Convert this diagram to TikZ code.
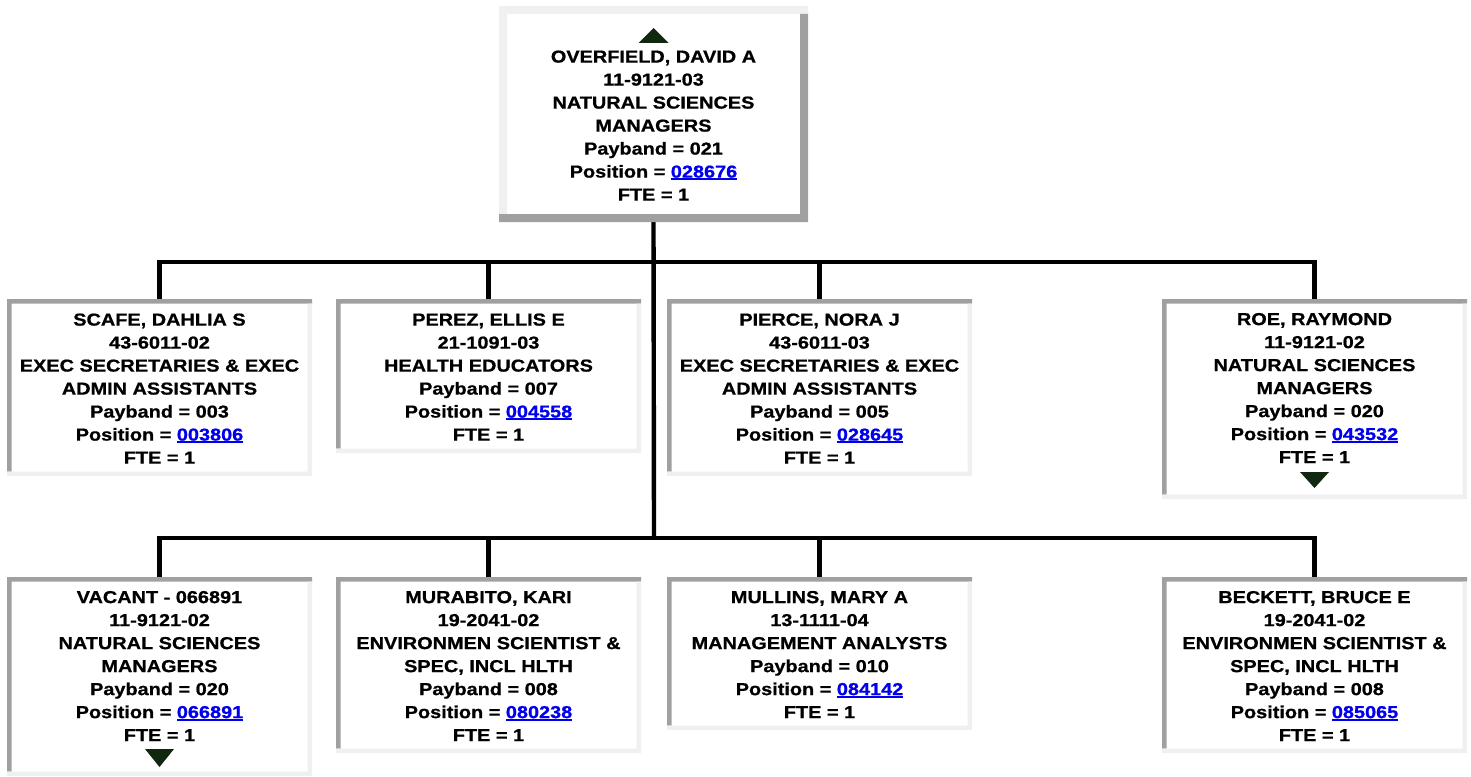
\documentclass[tikz,border=0pt]{standalone}
\usepackage{fontspec}
\setmainfont[FakeStretch=1.15, BoldFeatures={FakeBold=0.8}]{Liberation Sans}
\usetikzlibrary{calc}
\definecolor{bdark}{HTML}{A0A0A0}
\definecolor{blight}{HTML}{F0F0F0}
\definecolor{tricol}{HTML}{0F280F}
\definecolor{linkblue}{HTML}{0000EE}
\newcommand\lnk[1]{\textcolor{linkblue}{\setbox0\hbox{#1}\rlap{\rule[-2.6pt]{\wd0}{1.7pt}}\box0}}
% #1 node name, #2 border width, #3 top-left colour, #4 bottom-right colour
\newcommand\bevelnode[4]{%
  \fill[#3] let \p1=(#1.north west), \p2=(#1.south east) in
    (\x1,\y1) -- (\x2,\y1) -- (\x2,\y1-#2) -- (\x1+#2,\y1-#2) -- (\x1+#2,\y2+#2) -- (\x1,\y2+#2) -- cycle;
  \fill[#4] let \p1=(#1.north west), \p2=(#1.south east) in
    (\x2,\y1-#2) -- (\x2,\y2) -- (\x1,\y2) -- (\x1,\y2+#2) -- (\x2-#2,\y2+#2) -- (\x2-#2,\y1-#2) -- cycle;
}
\tikzset{
  box/.style={rectangle, inner sep=0, outer sep=0, minimum width=305, fill=white, draw=none},
  txt/.style={align=center, inner sep=0, outer sep=0, font=\fontsize{17.3}{23}\selectfont\bfseries},
  conn/.style={draw=black, line width=4.4pt},
}
\begin{document}
\begin{tikzpicture}[x=1pt, y=-1pt]
\useasboundingbox[fill=white] (0,0) rectangle (1471,776);

% junction points
\coordinate (j1) at (654,262);
\coordinate (j2) at (654,538);

% boxes (positions)
\node[box, minimum width=309, minimum height=216, anchor=north west] (top) at (499,6) {};
\node[box, minimum height=177, anchor=north west] (scafe) at (7,299) {};
\node[box, minimum height=154, anchor=north west] (perez) at (336,299) {};
\node[box, minimum height=177, anchor=north west] (pierce) at (667,299) {};
\node[box, minimum height=200, anchor=north west] (roe) at (1162,299) {};
\node[box, minimum height=199, anchor=north west] (vacant) at (7,577) {};
\node[box, minimum height=176, anchor=north west] (murabito) at (336,577) {};
\node[box, minimum height=153, anchor=north west] (mullins) at (667,577) {};
\node[box, minimum height=176, anchor=north west] (beckett) at (1162,577) {};

% connectors
\draw[conn] (top.south) -- (j2);
\draw[conn] (scafe.north) |- (j1);
\draw[conn] (perez.north) |- (j1);
\draw[conn] (pierce.north) |- (j1);
\draw[conn] (roe.north) |- (j1);
\draw[conn] (vacant.north) |- (j2);
\draw[conn] (murabito.north) |- (j2);
\draw[conn] (mullins.north) |- (j2);
\draw[conn] (beckett.north) |- (j2);

% bevelled borders
\bevelnode{top}{8pt}{blight}{bdark}
\foreach \bx in {scafe,perez,pierce,roe,vacant,murabito,mullins,beckett}{
  \bevelnode{\bx}{4.5pt}{bdark}{blight}
}

% triangles
\fill[tricol] ($(top.north)+(-15,37)$) -- ($(top.north)+(15,37)$) -- ($(top.north)+(0,22)$) -- cycle;
\fill[tricol] ($(roe.south)+(-14.5,-27)$) -- ($(roe.south)+(14.5,-27)$) -- ($(roe.south)+(0,-11)$) -- cycle;
\fill[tricol] ($(vacant.south)+(-14.5,-27)$) -- ($(vacant.south)+(14.5,-27)$) -- ($(vacant.south)+(0,-9)$) -- cycle;

% texts
\node[txt, anchor=north] (top-t) at ($(top.north)+(0,44.5)$) {OVERFIELD, DAVID A\\11-9121-03\\NATURAL SCIENCES\\MANAGERS\\Payband = 021\\Position = \lnk{028676}\\FTE = 1};
\node[txt, anchor=north] (scafe-t) at ($(scafe.north)+(0,14.5)$) {SCAFE, DAHLIA S\\43-6011-02\\EXEC SECRETARIES \& EXEC\\ADMIN ASSISTANTS\\Payband = 003\\Position = \lnk{003806}\\FTE = 1};
\node[txt, anchor=north] (perez-t) at ($(perez.north)+(0,14.5)$) {PEREZ, ELLIS E\\21-1091-03\\HEALTH EDUCATORS\\Payband = 007\\Position = \lnk{004558}\\FTE = 1};
\node[txt, anchor=north] (pierce-t) at ($(pierce.north)+(0,14.5)$) {PIERCE, NORA J\\43-6011-03\\EXEC SECRETARIES \& EXEC\\ADMIN ASSISTANTS\\Payband = 005\\Position = \lnk{028645}\\FTE = 1};
\node[txt, anchor=north] (roe-t) at ($(roe.north)+(0,14)$) {ROE, RAYMOND\\11-9121-02\\NATURAL SCIENCES\\MANAGERS\\Payband = 020\\Position = \lnk{043532}\\FTE = 1};
\node[txt, anchor=north] (vacant-t) at ($(vacant.north)+(0,14)$) {VACANT - 066891\\11-9121-02\\NATURAL SCIENCES\\MANAGERS\\Payband = 020\\Position = \lnk{066891}\\FTE = 1};
\node[txt, anchor=north] (murabito-t) at ($(murabito.north)+(0,14)$) {MURABITO, KARI\\19-2041-02\\ENVIRONMEN SCIENTIST \&\\SPEC, INCL HLTH\\Payband = 008\\Position = \lnk{080238}\\FTE = 1};
\node[txt, anchor=north] (mullins-t) at ($(mullins.north)+(0,14)$) {MULLINS, MARY A\\13-1111-04\\MANAGEMENT ANALYSTS\\Payband = 010\\Position = \lnk{084142}\\FTE = 1};
\node[txt, anchor=north] (beckett-t) at ($(beckett.north)+(0,14)$) {BECKETT, BRUCE E\\19-2041-02\\ENVIRONMEN SCIENTIST \&\\SPEC, INCL HLTH\\Payband = 008\\Position = \lnk{085065}\\FTE = 1};
\end{tikzpicture}
\end{document}
